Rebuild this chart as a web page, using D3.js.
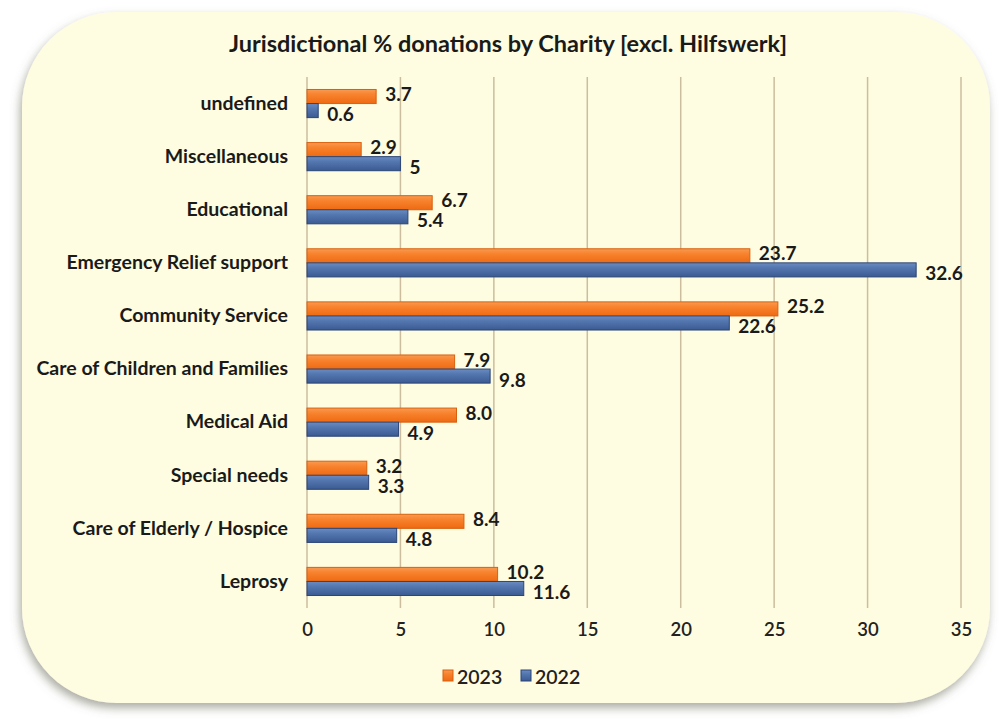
<!DOCTYPE html>
<html>
<head>
<meta charset="utf-8">
<script src="https://cdn.jsdelivr.net/npm/d3@7"></script>
<style>
  body { margin: 0; background: #fff; }
  text { font-family: Lato, "Open Sans", sans-serif; }
</style>
</head>
<body>
<div id="chart"></div>
<script>
const categories = ["undefined", "Miscellaneous", "Educational ", "Emergency Relief support", "Community Service",
  "Care of Children and Families", "Medical Aid", "Special needs", "Care of Elderly / Hospice", "Leprosy"];
const values2023 = [3.7, 2.9, 6.7, 23.7, 25.2, 7.9, 8.0, 3.2, 8.4, 10.2];
const values2022 = [0.6, 5, 5.4, 32.6, 22.6, 9.8, 4.9, 3.3, 4.8, 11.6];
const labels2023 = ["3.7", "2.9", "6.7", "23.7", "25.2", "7.9", "8.0", "3.2", "8.4", "10.2"];
const labels2022 = ["0.6", "5", "5.4", "32.6", "22.6", "9.8", "4.9", "3.3", "4.8", "11.6"];
const xTicks = [0, 5, 10, 15, 20, 25, 30, 35];
const seriesNames = ["2023", "2022"];

const W = 1003, H = 728;
const svg = d3.select("#chart").append("svg").attr("width", W).attr("height", H);
const defs = svg.append("defs");

const shadow = defs.append("filter").attr("id", "shadow")
  .attr("x", "-5%").attr("y", "-5%").attr("width", "110%").attr("height", "112%");
shadow.append("feDropShadow").attr("dx", -2).attr("dy", 5).attr("stdDeviation", 5)
  .attr("flood-color", "#6b6b5a").attr("flood-opacity", 0.55);

function gradient(id, stops) {
  const g = defs.append("linearGradient").attr("id", id)
    .attr("x1", 0).attr("y1", 0).attr("x2", 0).attr("y2", 1);
  stops.forEach(s => g.append("stop").attr("offset", s[0]).attr("stop-color", s[1]));
}
gradient("gOrange", [[0, "#f99a52"], [0.35, "#f8832e"], [1, "#ee6a12"]]);
gradient("gBlue", [[0, "#6a8cc2"], [0.35, "#5577b0"], [1, "#3a5a92"]]);

// card background
svg.append("rect")
  .attr("x", 22).attr("y", 12).attr("width", 968).attr("height", 691)
  .attr("rx", 95).attr("ry", 95)
  .attr("fill", "#fffde1")
  .attr("filter", "url(#shadow)");

svg.append("text")
  .attr("x", 508).attr("y", 52)
  .attr("text-anchor", "middle")
  .attr("font-size", 23.5).attr("font-weight", "bold").attr("fill", "#1a1a1a")
  .text("Jurisdictional % donations by Charity [excl. Hilfswerk]");

const x = d3.scaleLinear().domain([0, 35]).range([307, 961]);
const y = d3.scaleBand().domain(categories).range([77, 608]).paddingInner(0.47).paddingOuter(0.235);
const sub = d3.scaleBand().domain(seriesNames).range([0, y.bandwidth()]);

// gridlines
svg.append("g").selectAll("line").data(xTicks).join("line")
  .attr("x1", d => x(d)).attr("x2", d => x(d))
  .attr("y1", 77).attr("y2", 608)
  .attr("stroke", "#cbbd9e").attr("stroke-width", 1.5);

// x axis
const xAxis = svg.append("g")
  .attr("transform", "translate(0,623)")
  .call(d3.axisBottom(x).tickValues(xTicks).tickSize(0).tickPadding(0));
xAxis.select(".domain").remove();
xAxis.selectAll("text")
  .attr("font-size", 18.5).attr("font-weight", 600).attr("fill", "#222")
  .attr("font-family", "Lato, sans-serif");

// y axis
const yAxis = svg.append("g")
  .attr("transform", "translate(288,0)")
  .call(d3.axisLeft(y).tickSize(0).tickPadding(0));
yAxis.select(".domain").remove();
yAxis.selectAll("text")
  .attr("font-size", 19.5).attr("font-weight", "bold").attr("fill", "#1a1a1a")
  .attr("font-family", "Lato, sans-serif");

const series = [
  { name: "2023", values: values2023, labels: labels2023, fill: "url(#gOrange)", stroke: "#d8600e", dy: -3 },
  { name: "2022", values: values2022, labels: labels2022, fill: "url(#gBlue)", stroke: "#2b4576", dy: 3 }
];

series.forEach(s => {
  const g = svg.append("g");
  g.selectAll("rect").data(categories).join("rect")
    .attr("x", x(0))
    .attr("y", (d) => y(d) + sub(s.name))
    .attr("width", (d, i) => x(s.values[i]) - x(0))
    .attr("height", sub.bandwidth())
    .attr("fill", s.fill)
    .attr("stroke", s.stroke).attr("stroke-width", 1);
  g.selectAll("text").data(categories).join("text")
    .attr("x", (d, i) => x(s.values[i]) + 9)
    .attr("y", d => y(d) + sub(s.name) + sub.bandwidth() / 2 + s.dy)
    .attr("dominant-baseline", "central")
    .attr("font-size", 19).attr("font-weight", "bold").attr("fill", "#1a1a1a")
    .text((d, i) => s.labels[i]);
});

// legend
const legend = svg.append("g");
const legendItems = [
  { name: "2023", color: "url(#gOrange)", stroke: "#d8600e", x: 443 },
  { name: "2022", color: "url(#gBlue)", stroke: "#2b4576", x: 521 }
];
legendItems.forEach(it => {
  legend.append("rect").attr("x", it.x).attr("y", 670).attr("width", 10).attr("height", 11)
    .attr("fill", it.color).attr("stroke", it.stroke);
  legend.append("text").attr("x", it.x + 14).attr("y", 676)
    .attr("dominant-baseline", "central")
    .attr("font-size", 19.5).attr("font-weight", 600).attr("fill", "#222")
    .text(it.name);
});
</script>
</body>
</html>
